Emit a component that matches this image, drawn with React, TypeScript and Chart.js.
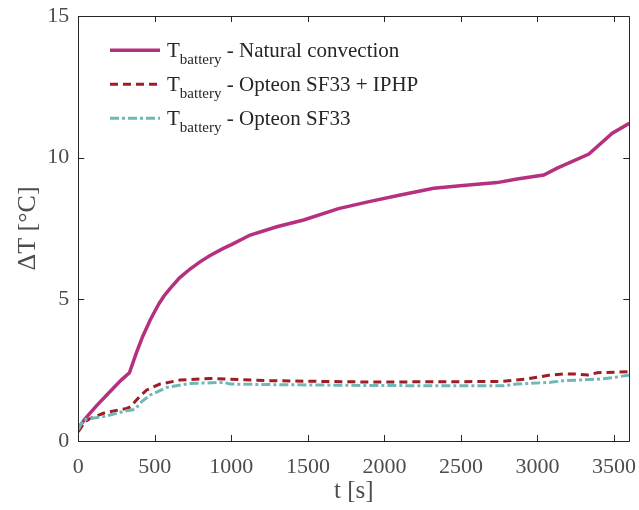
import React, { useEffect, useRef } from "react";
import { Chart, registerables } from "chart.js";

Chart.register(...registerables);

const LABELS = [
  "T|battery| - Natural convection",
  "T|battery| - Opteon SF33 + IPHP",
  "T|battery| - Opteon SF33",
];

const X_TICKS = [0, 500, 1000, 1500, 2000, 2500, 3000, 3500];
const Y_TICKS = [0, 5, 10, 15];

const tNatural = [0, 44, 120, 200, 280, 334, 380, 420, 469, 500, 530, 560, 599, 660, 730, 800, 861, 948, 1000, 1123, 1297, 1472, 1700, 1900, 2104, 2322, 2496, 2736, 2867, 3041, 3129, 3336, 3489, 3600];
const vNatural = [0.46, 0.78, 1.25, 1.7, 2.15, 2.41, 3.12, 3.68, 4.26, 4.58, 4.87, 5.12, 5.38, 5.75, 6.07, 6.34, 6.55, 6.8, 6.93, 7.27, 7.56, 7.8, 8.2, 8.45, 8.68, 8.92, 9.01, 9.12, 9.25, 9.39, 9.63, 10.13, 10.86, 11.21];

const tIphp = [0, 44, 80, 164, 250, 316, 340, 371, 410, 447, 534, 665, 861, 992, 1254, 1472, 1776, 1908, 2300, 2757, 2932, 3085, 3180, 3259, 3330, 3390, 3500, 3600];
const vIphp = [0.33, 0.68, 0.8, 0.98, 1.08, 1.15, 1.2, 1.39, 1.62, 1.8, 2.01, 2.15, 2.21, 2.18, 2.13, 2.11, 2.09, 2.08, 2.09, 2.1, 2.19, 2.33, 2.37, 2.36, 2.33, 2.41, 2.43, 2.45];

const tSf33 = [0, 33, 60, 164, 300, 371, 415, 469, 578, 730, 948, 992, 1254, 1908, 2300, 2780, 2867, 3085, 3172, 3390, 3500, 3600];
const vSf33 = [0.4, 0.74, 0.78, 0.86, 1.05, 1.12, 1.39, 1.62, 1.89, 2.03, 2.07, 2.01, 1.99, 1.96, 1.95, 1.95, 2.01, 2.07, 2.13, 2.18, 2.24, 2.33];

const X_MIN = 0, X_MAX = 3600;
const Y_MIN = 0, Y_MAX = 15;

const SERIF = '"Liberation Serif", "Times New Roman", serif';
const AXIS_COLOR = "#262626";
const TICK_COLOR = "#4d4d4d";

const toPts = (t: number[], v: number[]) => t.map((x, i) => ({ x, y: v[i] }));

const boxPlugin = {
  id: "boxTicks",
  afterDraw(chart: any) {
    const { ctx, chartArea: a, scales } = chart;
    const xs = scales.x, ys = scales.y;
    ctx.save();
    ctx.strokeStyle = AXIS_COLOR;
    ctx.lineWidth = 1;
    ctx.beginPath();
    ctx.rect(Math.round(a.left) + 0.5, Math.round(a.top) + 0.5, Math.round(a.right - a.left), Math.round(a.bottom - a.top));
    ctx.stroke();
    const L = 6;
    ctx.beginPath();
    xs.ticks.forEach((tk: any) => {
      const px = Math.round(xs.getPixelForValue(tk.value)) + 0.5;
      ctx.moveTo(px, a.bottom);
      ctx.lineTo(px, a.bottom - L);
      ctx.moveTo(px, a.top);
      ctx.lineTo(px, a.top + L);
    });
    ys.ticks.forEach((tk: any) => {
      const py = Math.round(ys.getPixelForValue(tk.value)) + 0.5;
      ctx.moveTo(a.left, py);
      ctx.lineTo(a.left + L, py);
      ctx.moveTo(a.right, py);
      ctx.lineTo(a.right - L, py);
    });
    ctx.stroke();

    // legend
    const x0 = 110, x1 = 160, tx = 167;
    chart.data.datasets.forEach((ds: any, i: number) => {
      const base = 56.7 + 34 * i;
      const ly = base - 6.5;
      ctx.save();
      ctx.strokeStyle = ds.borderColor;
      ctx.lineWidth = ds.borderWidth;
      ctx.setLineDash(ds.borderDash || []);
      ctx.beginPath();
      ctx.moveTo(x0, ly);
      ctx.lineTo(x1, ly);
      ctx.stroke();
      ctx.restore();
      const parts = String(ds.label).split("|");
      ctx.fillStyle = AXIS_COLOR;
      ctx.textBaseline = "alphabetic";
      ctx.textAlign = "left";
      ctx.font = `21px ${SERIF}`;
      let x = tx;
      ctx.fillText(parts[0], x, base);
      x += ctx.measureText(parts[0]).width;
      ctx.font = `15px ${SERIF}`;
      ctx.fillText(parts[1], x, base + 7.5);
      x += ctx.measureText(parts[1]).width;
      ctx.font = `21px ${SERIF}`;
      ctx.fillText(parts[2], x, base);
    });
    ctx.restore();
  },
};

export default function App() {
  const ref = useRef<HTMLCanvasElement | null>(null);
  useEffect(() => {
    if (!ref.current) return;
    const chart = new Chart(ref.current, {
      type: "line",
      data: {
        datasets: [
          {
            label: LABELS[0],
            data: toPts(tNatural, vNatural),
            borderColor: "#b5307f",
            borderWidth: 3.5,
            pointRadius: 0,
            tension: 0,
            order: 2,
          },
          {
            label: LABELS[1],
            data: toPts(tIphp, vIphp),
            borderColor: "#a01d26",
            borderWidth: 3,
            borderDash: [8, 5],
            pointRadius: 0,
            tension: 0,
            order: 1,
          },
          {
            label: LABELS[2],
            data: toPts(tSf33, vSf33),
            borderColor: "#6fb8b8",
            borderWidth: 3,
            borderDash: [9, 3, 3, 3],
            pointRadius: 0,
            tension: 0,
            order: 0,
          },
        ],
      },
      options: {
        animation: false,
        responsive: false,
        devicePixelRatio: 1,
        parsing: false as any,
        layout: { padding: { top: 16, right: 9.7, left: 0, bottom: 0 } },
        plugins: { legend: { display: false }, tooltip: { enabled: false } },
        scales: {
          x: {
            type: "linear",
            min: X_MIN,
            max: X_MAX,
            grid: { display: false, drawTicks: false },
            border: { display: false },
            afterBuildTicks: (s: any) => {
              s.ticks = X_TICKS.map((value) => ({ value }));
            },
            ticks: {
              padding: 13,
              color: TICK_COLOR,
              font: { family: SERIF, size: 22 },
              maxRotation: 0,
              autoSkip: false,
              callback: (v: any) => String(v),
            },
            title: {
              display: true,
              text: "t [s]",
              color: TICK_COLOR,
              font: { family: SERIF, size: 25 },
              padding: { top: 0, bottom: 4 },
            },
            afterFit: (s: any) => {
              s.height = 69;
              s.paddingLeft = 0;
              s.paddingRight = 0;
            },
          },
          y: {
            type: "linear",
            min: Y_MIN,
            max: Y_MAX,
            grid: { display: false, drawTicks: false },
            border: { display: false },
            afterBuildTicks: (s: any) => {
              s.ticks = Y_TICKS.map((value) => ({ value }));
            },
            ticks: {
              padding: 9,
              color: TICK_COLOR,
              font: { family: SERIF, size: 22 },
              callback: (v: any) => String(v),
            },
            title: {
              display: true,
              text: "ΔT [°C]",
              color: TICK_COLOR,
              font: { family: SERIF, size: 26 },
              padding: { top: 13, bottom: 0 },
            },
            afterFit: (s: any) => {
              s.width = 78.3;
              s.paddingTop = 0;
              s.paddingBottom = 0;
            },
          },
        },
      },
      plugins: [boxPlugin],
    });
    return () => chart.destroy();
  }, []);
  return (
    <div style={{ position: "absolute", left: 0, top: 0, width: 639, height: 510, background: "#fff" }}>
      <canvas ref={ref} width={639} height={510} />
    </div>
  );
}
